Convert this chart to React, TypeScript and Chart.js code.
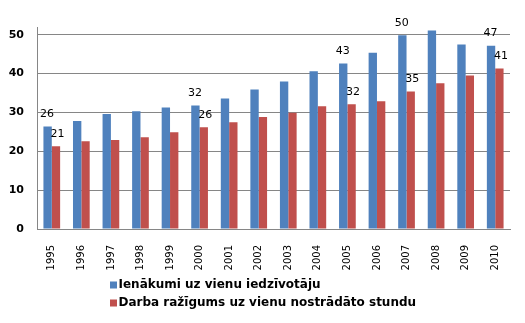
import React, { useEffect, useRef } from "react";
import { Chart, registerables } from "chart.js";

Chart.register(...registerables);

const years = ["1995", "1996", "1997", "1998", "1999", "2000", "2001", "2002", "2003", "2004", "2005", "2006", "2007", "2008", "2009", "2010"];
const incomePerCapita = [26.4, 27.8, 29.6, 30.3, 31.3, 31.8, 33.6, 35.9, 38.0, 40.6, 42.6, 45.4, 49.9, 51.1, 47.5, 47.2];
const productivityPerHour = [21.3, 22.6, 22.9, 23.6, 24.9, 26.2, 27.5, 28.8, 29.9, 31.6, 32.1, 32.9, 35.4, 37.5, 39.5, 41.3];
const seriesNames = ["Ienākumi uz vienu iedzīvotāju", "Darba ražīgums uz vienu nostrādāto stundu"];
const seriesColors = ["#4F81BD", "#C0504D"];
const labeledYears = ["1995", "2000", "2005", "2007", "2010"];
const yTicks = [0, 10, 20, 30, 40, 50];

const FONT = "'DejaVu Sans', Verdana, sans-serif";

const valueLabels = {
  id: "valueLabels",
  afterDatasetsDraw(chart: any) {
    const ctx = chart.ctx;
    ctx.save();
    ctx.font = `11px ${FONT}`;
    ctx.fillStyle = "#000";
    ctx.textAlign = "center";
    ctx.textBaseline = "bottom";
    chart.data.datasets.forEach((ds: any, di: number) => {
      const meta = chart.getDatasetMeta(di);
      meta.data.forEach((bar: any, i: number) => {
        if (!labeledYears.includes(chart.data.labels[i])) return;
        const dx = di === 1 ? 1.5 : -0.5;
        ctx.fillText(String(Math.round(ds.data[i])), bar.x + dx, bar.y - 7);
      });
    });
    ctx.restore();
  },
};

const bottomLegend = {
  id: "bottomLegend",
  afterDraw(chart: any) {
    const ctx = chart.ctx;
    const area = chart.chartArea;
    ctx.save();
    ctx.font = `bold 12px ${FONT}`;
    ctx.textAlign = "left";
    ctx.textBaseline = "middle";
    const x = area.left + 73;
    chart.data.datasets.forEach((ds: any, i: number) => {
      const y = area.bottom + 56 + i * 18;
      ctx.fillStyle = ds.backgroundColor;
      ctx.fillRect(x, y - 3.5, 7, 7);
      ctx.fillStyle = "#000";
      ctx.fillText(ds.label, x + 8.5, y);
    });
    ctx.restore();
  },
};

export default function App() {
  const canvasRef = useRef<HTMLCanvasElement | null>(null);

  useEffect(() => {
    if (!canvasRef.current) return;
    Chart.defaults.font.family = FONT;
    const chart = new Chart(canvasRef.current, {
      type: "bar",
      data: {
        labels: years,
        datasets: [
          { label: seriesNames[0], data: incomePerCapita, backgroundColor: seriesColors[0], borderWidth: 0 },
          { label: seriesNames[1], data: productivityPerHour, backgroundColor: seriesColors[1], borderWidth: 0 },
        ],
      },
      options: {
        responsive: false,
        animation: false,
        layout: { padding: { top: 27, right: 15, left: 0, bottom: 0 } },
        datasets: { bar: { categoryPercentage: 0.565, barPercentage: 1 } },
        plugins: {
          legend: { display: false },
          tooltip: { enabled: false },
        },
        scales: {
          x: {
            grid: { display: false },
            border: { display: true, color: "#868686", width: 1 },
            ticks: {
              font: { size: 10 },
              color: "#000",
              minRotation: 90,
              maxRotation: 90,
              padding: 8,
              autoSkip: false,
            },
            afterFit: (s: any) => {
              s.height = 94;
            },
          },
          y: {
            min: 0,
            max: 52,
            afterBuildTicks: (s: any) => {
              s.ticks = yTicks.map((v) => ({ value: v }));
            },
            grid: { color: "#868686", drawTicks: false },
            border: { display: true, color: "#868686", width: 1 },
            ticks: { font: { size: 11, weight: "bold" }, color: "#000", padding: 13 },
            afterFit: (s: any) => {
              s.width = 37;
            },
          },
        },
      },
      plugins: [valueLabels, bottomLegend],
    });
    return () => chart.destroy();
  }, []);

  return (
    <div style={{ position: "fixed", left: 0, top: 0, width: 525, height: 323, background: "#fff" }}>
      <canvas ref={canvasRef} width={525} height={323} />
    </div>
  );
}
